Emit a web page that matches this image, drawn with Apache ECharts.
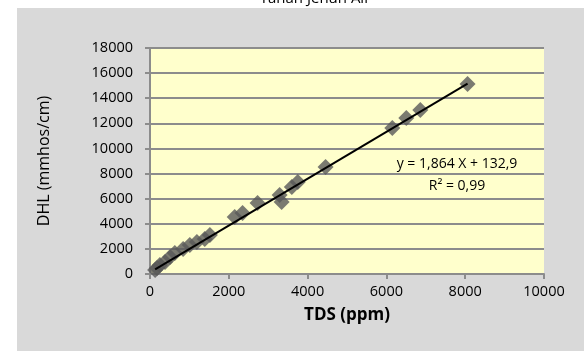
<!DOCTYPE html>
<html>
<head>
<meta charset="utf-8">
<script src="https://cdn.jsdelivr.net/npm/echarts@6/dist/echarts.min.js"></script>
<style>
    body { margin: 0; background: #fff; }
    .wrap { position: relative; width: 584px; height: 351px; }
    .panel { position: absolute; left: 17px; top: 8px; right: 0; bottom: 0; background: #d9d9d9; }
    #chart { position: absolute; left: 0; top: 0; width: 584px; height: 351px; }
</style>
</head>
<body>
<div class="wrap">
    <div class="panel"></div>
    <div id="chart"></div>
</div>
<script>
    // TDS (ppm) vs DHL (mmhos/cm)
    let tds = [130, 180, 250, 380, 510, 630, 840, 1010, 1190, 1390, 1520, 2150, 2350, 2730, 3290, 3340, 3600, 3750, 4456, 6150, 6506, 6860, 8060]
    let dhl = [320, 480, 720, 960, 1350, 1670, 1990, 2300, 2550, 2790, 3100, 4540, 4860, 5650, 6290, 5730, 6930, 7330, 8520, 11630, 12424, 13060, 15130]
    let slope = 1.864
    let intercept = 132.9
    let eqText = 'y = 1,864 X + 132,9'
    let r2Text = 'R² = 0,99'

    let points = tds.map((x, i) => [x, dhl[i]])
    let xMin = Math.min(...tds)
    let xMax = Math.max(...tds)
    let trend = [[xMin, slope * xMin + intercept], [xMax, slope * xMax + intercept]]

    let font = '"Open Sans", sans-serif'
    let plain = function (v) { return String(v) }
    let myChart = echarts.init(document.getElementById('chart'))
    let chartData = {
        backgroundColor: 'transparent',
        title: {
            text: 'Tanah Jenuh Air',
            left: 310,
            top: -14,
            textAlign: 'center',
            textStyle: { fontFamily: font, fontSize: 15, fontWeight: 'normal', color: '#000' }
        },
        grid: {
            left: 150,
            right: 40,
            top: 48,
            bottom: 77,
            show: true,
            backgroundColor: '#ffffcc',
            borderWidth: 0
        },
        xAxis: {
            type: 'value',
            min: 0,
            max: 10000,
            interval: 2000,
            name: 'TDS (ppm)',
            nameLocation: 'middle',
            nameGap: 33,
            nameTextStyle: { fontFamily: font, fontSize: 17, fontWeight: 'bold', color: '#000' },
            axisLine: { show: true, lineStyle: { color: '#8c8c8c', width: 2 } },
            axisTick: { show: true, length: 5, lineStyle: { color: '#8c8c8c', width: 2 } },
            axisLabel: { fontFamily: font, fontSize: 14.5, color: '#000', margin: 10, formatter: plain },
            splitLine: { show: false }
        },
        yAxis: {
            type: 'value',
            min: 0,
            max: 18000,
            interval: 2000,
            name: 'DHL (mmhos/cm)',
            nameLocation: 'middle',
            nameGap: 98,
            nameTextStyle: { fontFamily: font, fontSize: 16, color: '#000' },
            axisLine: { show: true, lineStyle: { color: '#8c8c8c', width: 2 } },
            axisTick: { show: true, length: 5, lineStyle: { color: '#8c8c8c', width: 2 } },
            axisLabel: { fontFamily: font, fontSize: 14.5, color: '#000', margin: 17, formatter: plain },
            splitLine: { show: true, lineStyle: { color: '#8c8c8c', width: 2 } }
        },
        graphic: [
            {
                type: 'text', x: 457, y: 164,
                style: { text: eqText, align: 'center', verticalAlign: 'middle', fontFamily: font, fontSize: 14, fill: '#000' }
            },
            {
                type: 'text', x: 457, y: 186,
                style: { text: r2Text, align: 'center', verticalAlign: 'middle', fontFamily: font, fontSize: 14, fill: '#000' }
            }
        ],
        series: [
            {
                type: 'scatter',
                data: points,
                symbol: 'diamond',
                symbolSize: 16,
                itemStyle: { color: '#595959' },
                z: 2
            },
            {
                type: 'line',
                data: trend,
                showSymbol: false,
                lineStyle: { color: '#000', width: 2 },
                z: 3
            }
        ]
    }
    myChart.setOption(chartData)
</script>
</body>
</html>
